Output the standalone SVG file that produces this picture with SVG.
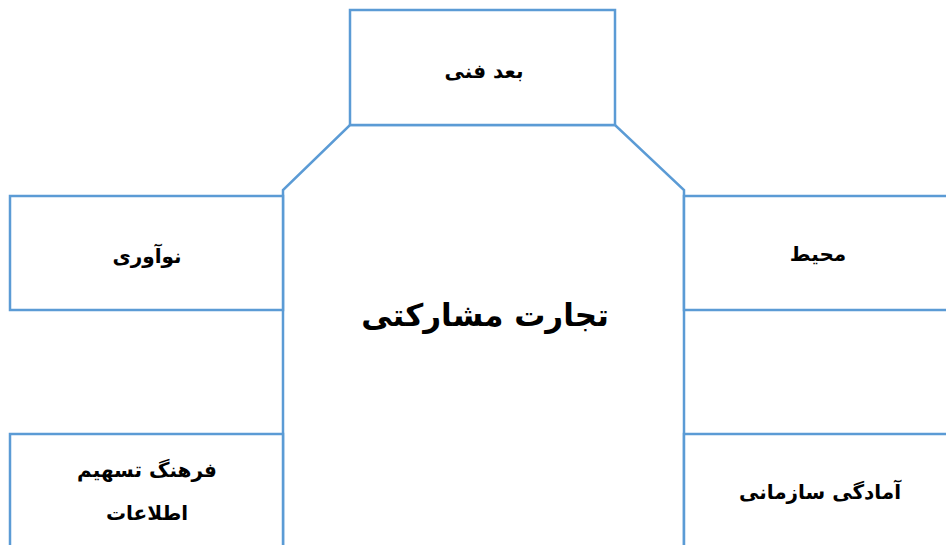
<svg xmlns="http://www.w3.org/2000/svg" width="946" height="545" viewBox="0 0 946 545">
<style>
.b{fill:#fff;stroke:#5B9BD5;stroke-width:2.5}
.t{font-family:"DejaVu Sans","Noto Sans",sans-serif;font-weight:bold;font-size:20px;fill:#000;text-anchor:middle}
.c{font-family:"DejaVu Sans","Noto Sans",sans-serif;font-weight:bold;font-size:31px;fill:#000;text-anchor:middle}
</style>
<rect width="946" height="545" fill="#fff"/>
<g id="center">
<polygon class="b" points="350,125 615,125 684,190 684,560 283,560 283,190"/>
<text class="c" x="485" y="326" direction="rtl">تجارت مشارکتی</text>
</g>
<g id="top">
<rect class="b" x="350" y="10" width="265" height="115"/>
<text class="t" x="484" y="78" direction="rtl">بعد فنی</text>
</g>
<g id="left1">
<rect class="b" x="10" y="196" width="273" height="114"/>
<text class="t" x="147" y="263" direction="rtl">نوآوری</text>
</g>
<g id="left2">
<rect class="b" x="10" y="434" width="273" height="130"/>
<text class="t" x="147" y="477" direction="rtl">فرهنگ تسهیم</text>
<text class="t" x="147" y="520" direction="rtl">اطلاعات</text>
</g>
<g id="right1">
<rect class="b" x="684" y="196" width="270" height="114"/>
<text class="t" x="818" y="261" direction="rtl">محیط</text>
</g>
<g id="right2">
<rect class="b" x="684" y="434" width="270" height="130"/>
<text class="t" x="820" y="499" direction="rtl">آمادگی سازمانی</text>
</g>
<g id="connectors"></g>
</svg>
